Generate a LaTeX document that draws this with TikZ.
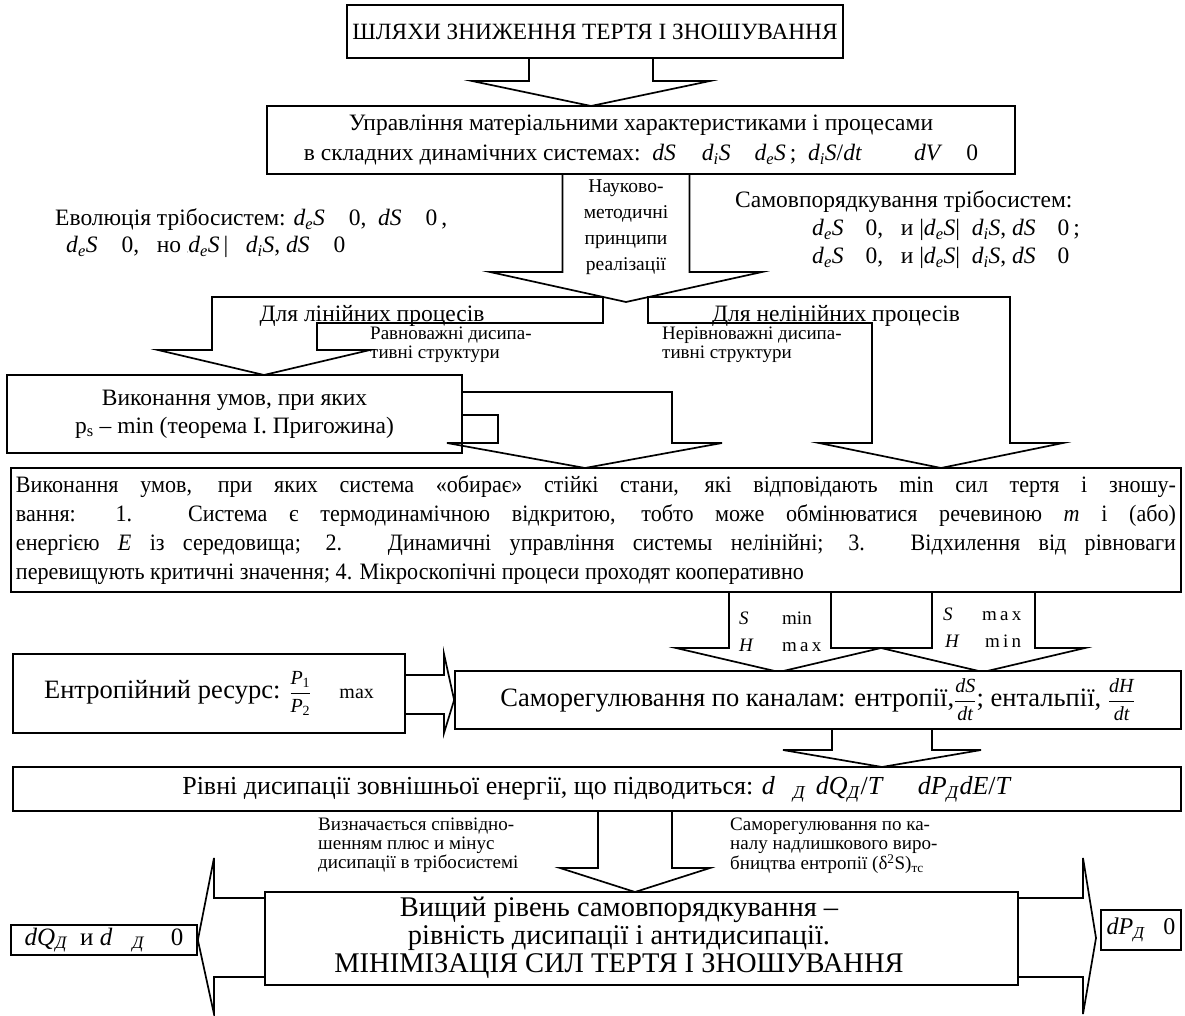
\documentclass[tikz,border=0pt]{standalone}
\usepackage{fontspec}
\setmainfont{Liberation Serif}
\newfontfamily\condfont[FakeStretch=0.94]{Liberation Serif}
\usetikzlibrary{positioning, calc}

\newcommand{\itx}[1]{\textit{#1}}
\newcommand{\dsub}[1]{\textit{d}\textsubscript{\textit{#1}}\textit{S}}
\newcommand{\sD}{\textsubscript{\textit{Д}}}
\newcommand{\tfr}[2]{$\displaystyle\frac{\mbox{#1}}{\mbox{#2}}$}
% down-pointing block arrow: top point, tip, shaft half width, wing half width, head length
\newcommand{\blockdown}[5]{%
  \draw[flow] let \p1=#1, \p2=#2 in
    (\x2-#3pt,\y1) -- (\x2-#3pt,\y2+#5pt) -- (\x2-#4pt,\y2+#5pt) -- (\p2)
    -- (\x2+#4pt,\y2+#5pt) -- (\x2+#3pt,\y2+#5pt) -- (\x2+#3pt,\y1);}

\begin{document}
\begin{tikzpicture}[x=1pt, y=-1pt,
    box/.style={rectangle, draw, line width=1.7pt, fill=white, inner sep=0pt, align=center},
    flow/.style={draw, line width=1.7pt, line join=miter},
    body/.style={font=\fontsize{23.5}{28}\selectfont, inner sep=0pt},
    notes/.style={font=\fontsize{19}{19}\selectfont, align=left, inner sep=0pt, anchor=north west},
    twinlab/.style={font=\fontsize{19}{20}\selectfont, inner sep=0pt, anchor=base west}
  ]
  \useasboundingbox[fill=white] (0,0) rectangle (1185,1016);

  % Title and control box
  \node[box, minimum width=496pt, minimum height=53pt, font=\fontsize{23.3}{28}\selectfont] (title) at (595,31.5) {ШЛЯХИ ЗНИЖЕННЯ ТЕРТЯ І ЗНОШУВАННЯ};
  \node[box, minimum width=748pt, minimum height=68pt, font=\fontsize{23.5}{30}\selectfont] (control) at (641,140)
    {Управління матеріальними характеристиками і процесами\\
     в складних динамічних системах:\ \ \itx{dS}\hspace{26pt}\dsub{i}\hspace{24pt}\dsub{e}\,;\ \ \dsub{i}/\itx{dt}\hspace{52pt}\itx{dV}\hspace{24pt}0};
  \coordinate (tip1) at (591,106);
  \blockdown{(title.south)}{(tip1)}{62}{119}{25}

  % Side texts
  \node[body, anchor=base west] (evol1) at (55,226) {Еволюція трібосистем: \dsub{e}\hspace{24pt}0,\ \ \itx{dS}\hspace{24pt}0\,,};
  \node[body, anchor=base west] (evol2) at (66,253) {\dsub{e}\hspace{24pt}0,\ \ \ но {\tiny ,}\dsub{e}\,|\ \ \ \dsub{i},\ \itx{dS}\hspace{24pt}0};
  \node[body, anchor=base west] (self1) at (735,208) {Самовпорядкування трібосистем:};
  \node[body, anchor=base west] (self2) at (812,236) {\dsub{e}\hspace{22pt}0,\ \ \ и |\dsub{e}|\ \ \dsub{i},\ \itx{dS}\hspace{22pt}0\,;};
  \node[body, anchor=base west] (self3) at (812,264) {\dsub{e}\hspace{22pt}0,\ \ \ и |\dsub{e}|\ \ \dsub{i},\ \itx{dS}\hspace{22pt}0};

  % Principles arrow
  \coordinate (tip2) at (626,302);
  \blockdown{(control.south)}{(tip2)}{63.5}{136}{30}
  \node[font=\fontsize{19.5}{26}\selectfont, align=center, inner sep=0pt] (princ) at (626,227) {Науково-\\методичні\\принципи\\реалізації};

  % Linear and nonlinear branches
  \draw[flow] (603,297) -- (212,297) -- (212,350) -- (158,350) -- (264,375) -- (370,350) -- (317,350) -- (317,323) -- (603,323) -- cycle;
  \draw[flow] (648,323) -- (648,297) -- (1010,297) -- (1010,443) -- (1063,443) -- (941,468) -- (819,443) -- (872,443) -- (872,323) -- cycle;
  \node[body, anchor=base] (linear) at (372,321) {Для лінійних процесів};
  \node[body, anchor=base] (nonlinear) at (836,321) {Для нелінійних процесів};
  \node[notes] (eqnote) at (370,327) {Равноважні дисипа-\\тивні структури};
  \node[notes] (neqnote) at (662,327) {Нерівноважні дисипа-\\тивні структури};

  % Prigogine box
  \node[box, minimum width=455pt, minimum height=78pt, font=\fontsize{23.5}{28}\selectfont] (prig) at (234.5,414)
    {Виконання умов, при яких\\p\textsubscript{s} -- min (теорема І. Пригожина)};
  \draw[flow] (prig.east |- 0,392) -- (672,392) -- (672,443) -- (722,443) -- (585,468) -- (447,443) -- (498,443) -- (498,415) -- (prig.east |- 0,415);

  % Conditions box
  \node[box, minimum width=1170pt, minimum height=124pt, text width=1160pt, align=justify,
        font=\condfont\fontsize{23.5}{29}\selectfont] (cond) at (596,530)
    {Виконання умов, при яких система «обирає» стійкі стани, які відповідають min сил тертя і зношу-\linebreak
     вання: 1. Система є термодинамічною відкритою, тобто може обмінюватися речевиною \itx{m} і (або)\linebreak
     енергією \itx{E} із середовища; 2. Динамичні управління системы нелінійні; 3. Відхилення від рівноваги\linebreak
     перевищують критичні значення; 4. Мікроскопічні процеси проходят кооперативно};

  % Twin arrows
  \draw[flow] (729,592) -- (729,648) -- (676,648) -- (779,672) -- (881,648) -- (983,672) -- (1085,648) -- (1035,648) -- (1035,592);
  \draw[flow] (831,592) -- (831,648) -- (932,648) -- (932,592);
  \node[twinlab] (s1) at (739,624) {\itx{S}};
  \node[twinlab] (s1v) at (782,624) {min};
  \node[twinlab] (h1) at (739,651) {\itx{H}};
  \node[twinlab] (h1v) at (782,651) {m\,a\,x};
  \node[twinlab] (s2) at (943,620) {\itx{S}};
  \node[twinlab] (s2v) at (982,620) {m\,a\,x};
  \node[twinlab] (h2) at (945,647) {\itx{H}};
  \node[twinlab] (h2v) at (985,647) {m\,i\,n};

  % Entropy resource and self-regulation
  \node[box, minimum width=392pt, minimum height=79pt, font=\fontsize{26.5}{28}\selectfont] (entropy) at (209,693.5)
    {Ентропійний ресурс: {\fontsize{20}{20}\selectfont\tfr{\itx{P}\textsubscript{1}}{\itx{P}\textsubscript{2}}\hspace{28pt}max}};
  \node[box, minimum width=726pt, minimum height=58pt, font=\fontsize{26.5}{28}\selectfont] (selfreg) at (818,700)
    {Саморегулювання по каналам: ентропії,{\fontsize{20}{20}\selectfont\tfr{\itx{dS}}{\itx{dt}}}; ентальпії, {\fontsize{20}{20}\selectfont\tfr{\itx{dH}}{\itx{dt}}}};
  \draw[flow] (entropy.east |- 0,675) -- (444,675) -- (444,654) -- (selfreg.west) -- (444,733) -- (444,714) -- (entropy.east |- 0,714);

  % Dissipation levels
  \node[box, minimum width=1168pt, minimum height=44pt, font=\fontsize{26}{26}\selectfont] (levels) at (597,789)
    {Рівні дисипації зовнішньої енергії, що підводиться: \itx{d}\hspace{18pt}\sD\hspace{10pt}\itx{dQ}\sD/\itx{T}\hspace{34pt}\itx{dP}\sD\itx{dE}/\itx{T}};
  \coordinate (tip3) at (882,767);
  \blockdown{(selfreg.south)}{(tip3)}{50}{99}{17}
  \node[notes] (ratio) at (318,818) {Визначається співвідно-\\шенням плюс и мінус\\дисипації в трібосистемі};
  \node[notes] (excess) at (730,818) {Саморегулювання по ка-\\налу надлишкового виро-\\бництва ентропії (δ\textsuperscript{2}S)\textsubscript{тс}};

  % Final level
  \node[box, minimum width=753pt, minimum height=93pt] (final) at (641.5,938.5) {};
  \node[font=\fontsize{28.5}{28}\selectfont, align=center, inner sep=0pt] (finaltext) at (619,938)
    {Вищий рівень самовпорядкування --\\рівність дисипації і антидисипації.\\МІНІМІЗАЦІЯ СИЛ ТЕРТЯ І ЗНОШУВАННЯ};
  \coordinate (tip4) at (635,892);
  \blockdown{(levels.south)}{(tip4)}{37}{75}{24}
  \node[box, minimum width=186pt, minimum height=30pt, font=\fontsize{25}{26}\selectfont] (dq) at (104,940)
    {\itx{dQ}\sD\ \ и \itx{d}\hspace{20pt}\sD\hspace{26pt}0};
  \node[box, minimum width=80pt, minimum height=40pt, font=\fontsize{24}{26}\selectfont] (dp) at (1141,930)
    {\itx{dP}\sD\hspace{18pt}0};
  \draw[flow] (final.west |- 0,898) -- (214,898) -- (214,858) -- (dq.east) -- (214,1014) -- (214,977) -- (final.west |- 0,977);
  \draw[flow] (final.east |- 0,898) -- (1083,898) -- (1083,858) -- (1096,938) -- (1083,1014) -- (1083,977) -- (final.east |- 0,977);
\end{tikzpicture}
\end{document}
